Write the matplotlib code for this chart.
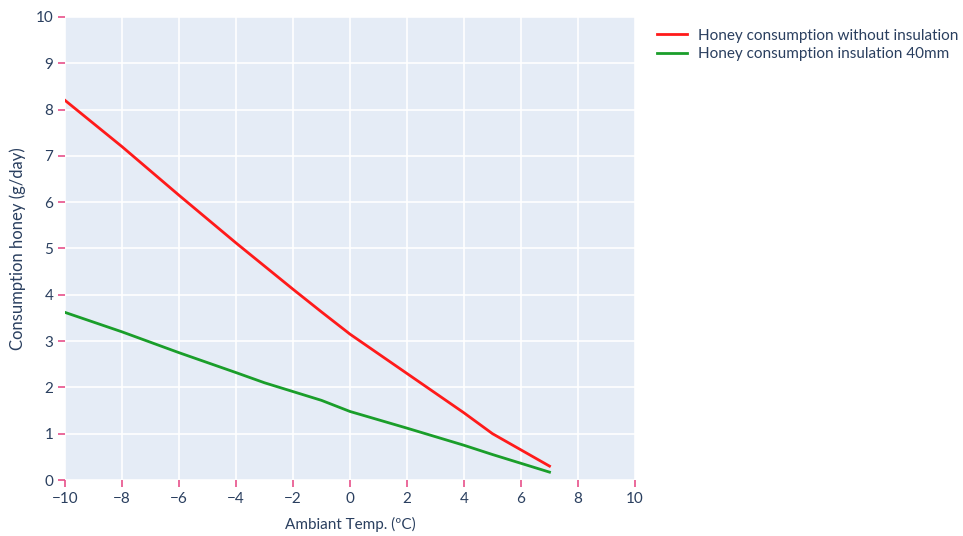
import matplotlib.pyplot as plt

# ambient temperature (C) and honey consumption (g/day)
temp_red = [-10, -8, -6, -4, -2, -1, 0, 2, 4, 5, 6, 7]
honey_no_insulation = [8.2, 7.2, 6.15, 5.12, 4.12, 3.63, 3.15, 2.3, 1.45, 1.0, 0.65, 0.3]

temp_green = [-10, -8, -6, -4, -3, -1, 0, 2, 4, 5, 7]
honey_insulation_40mm = [3.62, 3.2, 2.75, 2.32, 2.1, 1.72, 1.48, 1.12, 0.75, 0.55, 0.17]

x_ticks = list(range(-10, 11, 2))
y_ticks = list(range(0, 11))

plt.rcParams['font.family'] = ['Lato', 'DejaVu Sans']
text_color = '#2a3f5f'

fig = plt.figure(figsize=(9.63, 5.36), dpi=100)
ax = fig.add_axes([65 / 963, 1 - 480 / 536, 570 / 963, 463 / 536])
ax.set_facecolor('#e5ecf6')

ax.plot(temp_red, honey_no_insulation, color='#ff1a1a', lw=2, label='Honey consumption without insulation')
ax.plot(temp_green, honey_insulation_40mm, color='#1a9e2a', lw=2, label='Honey consumption insulation 40mm')

ax.set_xlim(-10, 10)
ax.set_ylim(0, 10)
ax.set_xticks(x_ticks)
ax.set_yticks(y_ticks)
ax.set_xticklabels([str(t).replace('-', '\u2212') for t in x_ticks])
ax.grid(color='white', lw=1.2)
ax.set_axisbelow(True)
for s in ax.spines.values():
    s.set_visible(False)
ax.tick_params(colors='#e8508a', labelcolor=text_color, length=5, width=1.2, labelsize=11)

ax.set_xlabel('Ambiant Temp. (ºC)', color=text_color, fontsize=11, labelpad=8)
ax.set_ylabel('Consumption honey (g/day)', color=text_color, fontsize=12, labelpad=7)

fig.legend(loc='upper left', bbox_to_anchor=(643 / 963, 1 - 15 / 536), frameon=False,
           fontsize=11, handlelength=2.0, handletextpad=0.7, labelspacing=0.3,
           labelcolor=text_color)

fig.savefig('out.png', dpi=100)
